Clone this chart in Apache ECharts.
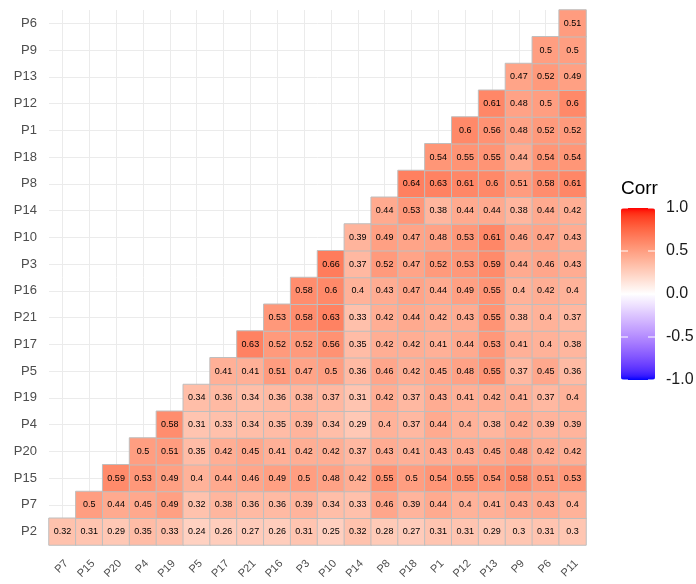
<!DOCTYPE html>
<html>
<head>
<meta charset="utf-8">
<script src="https://cdn.jsdelivr.net/npm/echarts@6/dist/echarts.min.js"></script>
<style>
  html, body { margin: 0; padding: 0; background: #ffffff; }
  #chart { width: 696px; height: 584px; }
</style>
</head>
<body>
<div id="chart"></div>
<script>
// Variables in plotting order
const xLabels = ['P7', 'P15', 'P20', 'P4', 'P19', 'P5', 'P17', 'P21', 'P16', 'P3',
                 'P10', 'P14', 'P8', 'P18', 'P1', 'P12', 'P13', 'P9', 'P6', 'P11'];
const yLabels = ['P2', 'P7', 'P15', 'P20', 'P4', 'P19', 'P5', 'P17', 'P21', 'P16',
                 'P3', 'P10', 'P14', 'P8', 'P18', 'P1', 'P12', 'P13', 'P9', 'P6'];

// Lower-triangle correlations; row k starts at column k
const corrP2  = [0.32, 0.31, 0.29, 0.35, 0.33, 0.24, 0.26, 0.27, 0.26, 0.31, 0.25, 0.32, 0.28, 0.27, 0.31, 0.31, 0.29, 0.3, 0.31, 0.3];
const corrP7  = [0.5, 0.44, 0.45, 0.49, 0.32, 0.38, 0.36, 0.36, 0.39, 0.34, 0.33, 0.46, 0.39, 0.44, 0.4, 0.41, 0.43, 0.43, 0.4];
const corrP15 = [0.59, 0.53, 0.49, 0.4, 0.44, 0.46, 0.49, 0.5, 0.48, 0.42, 0.55, 0.5, 0.54, 0.55, 0.54, 0.58, 0.51, 0.53];
const corrP20 = [0.5, 0.51, 0.35, 0.42, 0.45, 0.41, 0.42, 0.42, 0.37, 0.43, 0.41, 0.43, 0.43, 0.45, 0.48, 0.42, 0.42];
const corrP4  = [0.58, 0.31, 0.33, 0.34, 0.35, 0.39, 0.34, 0.29, 0.4, 0.37, 0.44, 0.4, 0.38, 0.42, 0.39, 0.39];
const corrP19 = [0.34, 0.36, 0.34, 0.36, 0.38, 0.37, 0.31, 0.42, 0.37, 0.43, 0.41, 0.42, 0.41, 0.37, 0.4];
const corrP5  = [0.41, 0.41, 0.51, 0.47, 0.5, 0.36, 0.46, 0.42, 0.45, 0.48, 0.55, 0.37, 0.45, 0.36];
const corrP17 = [0.63, 0.52, 0.52, 0.56, 0.35, 0.42, 0.42, 0.41, 0.44, 0.53, 0.41, 0.4, 0.38];
const corrP21 = [0.53, 0.58, 0.63, 0.33, 0.42, 0.44, 0.42, 0.43, 0.55, 0.38, 0.4, 0.37];
const corrP16 = [0.58, 0.6, 0.4, 0.43, 0.47, 0.44, 0.49, 0.55, 0.4, 0.42, 0.4];
const corrP3  = [0.66, 0.37, 0.52, 0.47, 0.52, 0.53, 0.59, 0.44, 0.46, 0.43];
const corrP10 = [0.39, 0.49, 0.47, 0.48, 0.53, 0.61, 0.46, 0.47, 0.43];
const corrP14 = [0.44, 0.53, 0.38, 0.44, 0.44, 0.38, 0.44, 0.42];
const corrP8  = [0.64, 0.63, 0.61, 0.6, 0.51, 0.58, 0.61];
const corrP18 = [0.54, 0.55, 0.55, 0.44, 0.54, 0.54];
const corrP1  = [0.6, 0.56, 0.48, 0.52, 0.52];
const corrP12 = [0.61, 0.48, 0.5, 0.6];
const corrP13 = [0.47, 0.52, 0.49];
const corrP9  = [0.5, 0.5];
const corrP6  = [0.51];

const legendTicks = [1, 0.5, 0, -0.5, -1];
const legendTickLabels = ['1.0', '0.5', '0.0', '-0.5', '-1.0'];

const rows = [corrP2, corrP7, corrP15, corrP20, corrP4, corrP19, corrP5, corrP17, corrP21, corrP16,
              corrP3, corrP10, corrP14, corrP8, corrP18, corrP1, corrP12, corrP13, corrP9, corrP6];

const data = [];
rows.forEach((row, r) => {
  row.forEach((v, j) => data.push([r + j, r, v]));
});

// Diverging blue-white-red gradient interpolated in CIE Lab
function toLin(c) { c /= 255; return c <= 0.04045 ? c / 12.92 : Math.pow((c + 0.055) / 1.055, 2.4); }
function toSrgb(c) { c = Math.min(1, Math.max(0, c)); return c <= 0.0031308 ? 12.92 * c : 1.055 * Math.pow(c, 1 / 2.4) - 0.055; }
function rgbToLab(rgb) {
  const R = toLin(rgb[0]), G = toLin(rgb[1]), B = toLin(rgb[2]);
  const X = (0.4124 * R + 0.3576 * G + 0.1805 * B) / 0.95047;
  const Y = 0.2126 * R + 0.7152 * G + 0.0722 * B;
  const Z = (0.0193 * R + 0.1192 * G + 0.9505 * B) / 1.08883;
  const f = t => t > 216 / 24389 ? Math.cbrt(t) : (24389 / 27 * t + 16) / 116;
  const fx = f(X), fy = f(Y), fz = f(Z);
  return [116 * fy - 16, 500 * (fx - fy), 200 * (fy - fz)];
}
function labToRgb(lab) {
  const fy = (lab[0] + 16) / 116, fx = fy + lab[1] / 500, fz = fy - lab[2] / 200;
  const inv = t => t * t * t > 216 / 24389 ? t * t * t : (116 * t - 16) / (24389 / 27);
  const X = 0.95047 * inv(fx), Y = inv(fy), Z = 1.08883 * inv(fz);
  const R = 3.2406 * X - 1.5372 * Y - 0.4986 * Z;
  const G = -0.9689 * X + 1.8758 * Y + 0.0415 * Z;
  const B = 0.0557 * X - 0.2040 * Y + 1.0570 * Z;
  return 'rgb(' + [R, G, B].map(c => Math.round(toSrgb(c) * 255)).join(',') + ')';
}
const labLow = rgbToLab([0, 0, 255]), labMid = rgbToLab([255, 255, 255]), labHigh = rgbToLab([255, 0, 0]);
const gradient = [];
const steps = 40;
for (let i = 0; i <= steps; i++) {
  const v = -1 + 2 * i / steps;
  const end = v < 0 ? labLow : labHigh;
  const t = Math.abs(v);
  gradient.push(labToRgb(labMid.map((m, k) => m + (end[k] - m) * t)));
}

const font = 'Liberation Sans, Arial, sans-serif';
// colour bar geometry (the visualMap component adds a 15px inset of its own)
const barLeft = 621, barTop = 208, barW = 34, barH = 172;
const vmInset = 15;

const graphics = [{
  type: 'text', left: barLeft, top: 179,
  style: { text: 'Corr', fill: '#000000', font: '19px ' + font }
}];
legendTicks.forEach((v, i) => {
  const y = barTop + (1 - v) / 2 * barH;
  graphics.push({
    type: 'text', x: barLeft + barW + 11, y: y,
    style: { text: legendTickLabels[i], fill: '#1a1a1a', font: '16px ' + font, textVerticalAlign: 'middle' }
  });
  [barLeft, barLeft + barW - 7].forEach(x0 => {
    graphics.push({
      type: 'line', z: 100,
      shape: { x1: x0, y1: y, x2: x0 + 7, y2: y },
      style: { stroke: '#ffffff', lineWidth: 1 }
    });
  });
});

const chart = echarts.init(document.getElementById('chart'), null, { renderer: 'canvas' });
chart.setOption({
  backgroundColor: '#ffffff',
  animation: false,
  grid: { left: 49, top: 10, right: 110, bottom: 39, containLabel: false },
  xAxis: {
    type: 'category', data: xLabels,
    axisLine: { show: false }, axisTick: { show: false },
    splitLine: { show: true, alignWithLabel: true, lineStyle: { color: '#ebebeb', width: 1 } },
    axisLabel: {
      rotate: 45, margin: 13, align: 'right', verticalAlign: 'top',
      color: '#4d4d4d', fontSize: 11, fontFamily: font, interval: 0
    }
  },
  yAxis: {
    type: 'category', data: yLabels,
    axisLine: { show: false }, axisTick: { show: false },
    splitLine: { show: true, alignWithLabel: true, lineStyle: { color: '#ebebeb', width: 1 } },
    axisLabel: { margin: 12, color: '#4d4d4d', fontSize: 13, fontFamily: font, interval: 0 }
  },
  visualMap: {
    type: 'continuous', min: -1, max: 1, dimension: 2, seriesIndex: 0,
    calculable: false, hoverLink: false, orient: 'vertical',
    left: barLeft - vmInset, top: barTop - vmInset, itemWidth: barW, itemHeight: barH,
    inRange: { color: gradient },
    textStyle: { color: 'transparent' }
  },
  series: [{
    type: 'heatmap',
    data: data,
    label: {
      show: true, color: '#000000', fontSize: 9, fontFamily: font,
      formatter: p => String(p.value[2])
    },
    itemStyle: { borderColor: '#bebebe', borderWidth: 1 },
    emphasis: { disabled: true }
  }],
  graphic: graphics
});
</script>
</body>
</html>
